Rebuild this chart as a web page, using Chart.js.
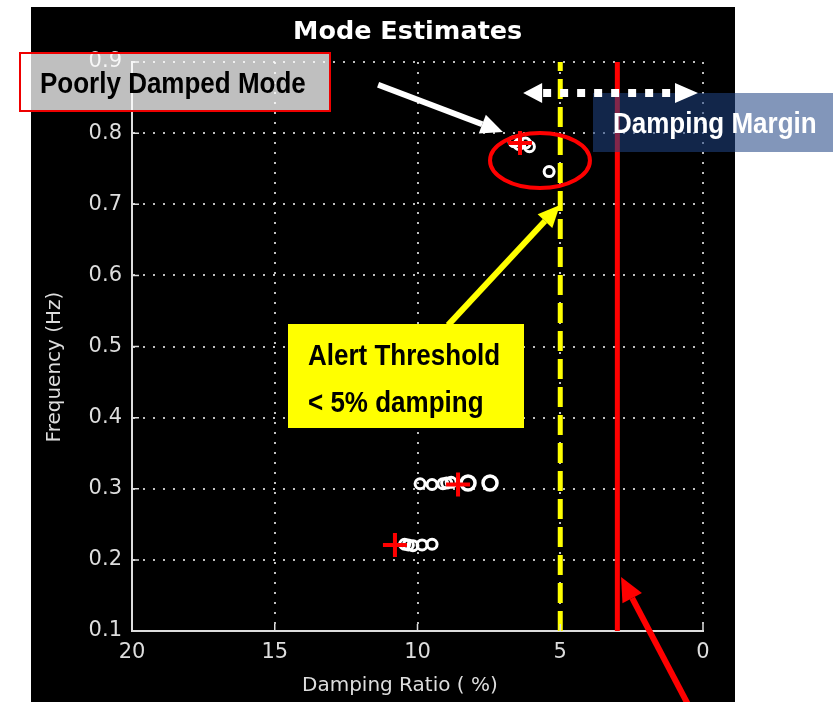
<!DOCTYPE html>
<html>
<head>
<meta charset="utf-8">
<style>
  html, body { margin: 0; padding: 0; background: #fff; }
  #wrap { position: relative; width: 833px; height: 702px; overflow: hidden; }
</style>
<script src="https://cdn.jsdelivr.net/npm/chart.js@4/dist/chart.umd.min.js"></script>
</head>
<body>
<div id="wrap"><canvas id="modeChart" width="833" height="702"></canvas></div>
<script>
// tick values
const dampTicks = [0, 5, 10, 15, 20];
const freqTicks = [0.1, 0.2, 0.3, 0.4, 0.5, 0.6, 0.7, 0.8, 0.9];

// mode estimates (damping %, frequency Hz)
const estDamping = [9.91, 9.49, 9.11, 8.98, 8.82, 10.45, 10.32, 10.16, 9.84, 9.49, 6.62, 6.45, 6.22, 6.08, 5.39];
const estFreq    = [0.307, 0.306, 0.307, 0.308, 0.309, 0.222, 0.221, 0.220, 0.221, 0.222, 0.788, 0.784, 0.786, 0.781, 0.746];
const bigDamping = [8.23, 7.46];
const bigFreq    = [0.308, 0.308];
// current (latest) estimates, red crosses
const curDamping = [10.79, 8.58, 6.41];
const curFreq    = [0.221, 0.306, 0.786];

const alertThreshold = 5;   // % damping
const marginLine = 3;       // % damping

const toPts = (xs, ys) => xs.map((x, i) => ({x: x, y: ys[i]}));

function arrow(ctx, x1, y1, x2, y2, w, headLen, headW, color) {
    const a = Math.atan2(y2 - y1, x2 - x1);
    const bx = x2 - headLen * Math.cos(a), by = y2 - headLen * Math.sin(a);
    ctx.strokeStyle = color;
    ctx.fillStyle = color;
    ctx.lineWidth = w;
    ctx.beginPath();
    ctx.moveTo(x1, y1);
    ctx.lineTo(bx, by);
    ctx.stroke();
    ctx.beginPath();
    ctx.moveTo(x2, y2);
    ctx.lineTo(bx + headW / 2 * Math.sin(a), by - headW / 2 * Math.cos(a));
    ctx.lineTo(bx - headW / 2 * Math.sin(a), by + headW / 2 * Math.cos(a));
    ctx.closePath();
    ctx.fill();
}

function tallText(ctx, txt, x, y) {
    ctx.save();
    ctx.translate(x, y);
    ctx.scale(1, 1.1);
    ctx.fillText(txt, 0, 0);
    ctx.restore();
}

const matlabLook = {
    id: 'matlabLook',
    beforeDraw(chart) {
        const ctx = chart.ctx;
        ctx.save();
        ctx.fillStyle = '#000';
        ctx.fillRect(31, 7, 704, 695);
        ctx.restore();
    },
    afterDraw(chart) {
        const ctx = chart.ctx;
        const X = chart.scales.x, Y = chart.scales.y;
        const px = v => X.getPixelForValue(v);
        const py = v => Y.getPixelForValue(v);
        ctx.save();

        // inward tick marks
        ctx.strokeStyle = '#ddd';
        ctx.lineWidth = 1.5;
        ctx.beginPath();
        freqTicks.forEach(v => { ctx.moveTo(X.left, py(v)); ctx.lineTo(X.left + 7, py(v)); });
        dampTicks.forEach(v => { ctx.moveTo(px(v), Y.bottom); ctx.lineTo(px(v), Y.bottom - 7); });
        ctx.stroke();

        // titles
        ctx.fillStyle = '#fff';
        ctx.font = 'bold 25.5px "DejaVu Sans"';
        ctx.textAlign = 'left';
        ctx.textBaseline = 'alphabetic';
        ctx.fillText('Mode Estimates', 293, 39);
        ctx.fillStyle = '#ddd';
        ctx.font = '20px "DejaVu Sans"';
        ctx.fillText('Damping Ratio ( %)', 302, 691);
        ctx.save();
        ctx.translate(55, 367);
        ctx.rotate(-Math.PI / 2);
        ctx.textAlign = 'center';
        ctx.textBaseline = 'middle';
        ctx.fillText('Frequency (Hz)', 0, 0);
        ctx.restore();

        // ellipse round the poorly damped mode
        const cx = 5.71, cy = 0.7615;
        ctx.strokeStyle = '#f00';
        ctx.lineWidth = 4;
        ctx.beginPath();
        ctx.ellipse(px(cx), py(cy), Math.abs(px(cx + 1.75) - px(cx)), Math.abs(py(cy + 0.0387) - py(cy)), 0, 0, Math.PI * 2);
        ctx.stroke();

        // arrows
        arrow(ctx, px(11.38), py(0.868), px(7.01), py(0.8016), 6, 22, 20, '#fff');
        arrow(ctx, px(8.93), py(0.530), px(5.01), py(0.699), 6, 22, 20, '#ff0');
        arrow(ctx, px(0.385), py(-0.014), px(2.87), py(0.176), 6, 24, 22, '#f00');

        // Damping Margin box (under the dotted arrow)
        ctx.fillStyle = 'rgba(32,68,132,0.56)';
        ctx.fillRect(593, 93, 260, 59);
        ctx.fillStyle = '#fff';
        ctx.font = 'bold 26px "Liberation Sans"';
        tallText(ctx, 'Damping Margin', 613, 133);

        // dotted double arrow
        const ay = py(0.8564), ax1 = px(6.30), ax2 = px(0.175);
        ctx.strokeStyle = '#fff';
        ctx.fillStyle = '#fff';
        ctx.lineWidth = 8;
        ctx.setLineDash([8, 9]);
        ctx.beginPath();
        ctx.moveTo(ax1 + 20, ay);
        ctx.lineTo(ax2 - 22, ay);
        ctx.stroke();
        ctx.setLineDash([]);
        ctx.beginPath();
        ctx.moveTo(ax1, ay); ctx.lineTo(ax1 + 19, ay - 10); ctx.lineTo(ax1 + 19, ay + 10); ctx.closePath();
        ctx.moveTo(ax2, ay); ctx.lineTo(ax2 - 23, ay - 10); ctx.lineTo(ax2 - 23, ay + 10); ctx.closePath();
        ctx.fill();

        // Poorly Damped Mode box
        ctx.fillStyle = 'rgba(255,255,255,0.75)';
        ctx.fillRect(20, 53, 310, 58);
        ctx.strokeStyle = '#e00';
        ctx.lineWidth = 2;
        ctx.strokeRect(20, 53, 310, 58);
        ctx.fillStyle = '#000';
        tallText(ctx, 'Poorly Damped Mode', 40, 93);

        // Alert threshold box
        ctx.fillStyle = '#ff0';
        ctx.fillRect(288, 324, 236, 104);
        ctx.fillStyle = '#000';
        tallText(ctx, 'Alert Threshold', 308, 365);
        tallText(ctx, '< 5% damping', 308, 412);

        ctx.restore();
    }
};

Chart.defaults.font.family = '"DejaVu Sans"';

const ctx = document.getElementById('modeChart').getContext('2d');
new Chart(ctx, {
    type: 'scatter',
    data: {
        datasets: [{
            label: 'Current estimate',
            data: toPts(curDamping, curFreq),
            pointStyle: 'cross',
            radius: 12,
            borderColor: '#f00',
            borderWidth: 4,
            order: 0
        }, {
            label: 'Estimates',
            data: toPts(estDamping, estFreq),
            pointStyle: 'circle',
            radius: 5,
            borderColor: '#fff',
            backgroundColor: 'rgba(0,0,0,0)',
            borderWidth: 3,
            order: 1
        }, {
            label: 'Estimates (large)',
            data: toPts(bigDamping, bigFreq),
            pointStyle: 'circle',
            radius: 7,
            borderColor: '#fff',
            backgroundColor: 'rgba(0,0,0,0)',
            borderWidth: 3.5,
            order: 1
        }, {
            type: 'line',
            label: 'Alert threshold',
            data: [{x: alertThreshold, y: freqTicks[0]}, {x: alertThreshold, y: freqTicks[freqTicks.length - 1]}],
            borderColor: '#ff0',
            borderWidth: 5,
            borderDash: [20, 8],
            pointRadius: 0,
            clip: false,
            order: 2
        }, {
            type: 'line',
            label: 'Margin',
            data: [{x: marginLine, y: freqTicks[0]}, {x: marginLine, y: freqTicks[freqTicks.length - 1]}],
            borderColor: '#f00',
            borderWidth: 5,
            pointRadius: 0,
            clip: false,
            order: 2
        }]
    },
    options: {
        responsive: false,
        animation: false,
        layout: { padding: { left: 31, top: 62, right: 130, bottom: 0 } },
        plugins: {
            legend: { display: false },
            tooltip: { enabled: false },
            title: { display: false }
        },
        scales: {
            x: {
                type: 'linear',
                reverse: true,
                min: 0,
                max: 20,
                afterBuildTicks: s => { s.ticks = dampTicks.map(v => ({value: v})); },
                afterFit: s => { s.height = 71; },
                grid: { color: 'rgba(255,255,255,0.75)', lineWidth: 2, drawTicks: false },
                border: { display: true, color: '#ddd', width: 2, dash: [2, 8] },
                ticks: {
                    color: '#ddd',
                    font: { size: 21 },
                    padding: 9,
                    maxRotation: 0,
                    autoSkip: false,
                    callback: v => String(v)
                }
            },
            y: {
                type: 'linear',
                min: 0.1,
                max: 0.9,
                afterBuildTicks: s => { s.ticks = freqTicks.map(v => ({value: v})); },
                afterFit: s => { s.width = 101; },
                grid: { color: 'rgba(255,255,255,0.75)', lineWidth: 2, drawTicks: false },
                border: { display: true, color: '#ddd', width: 2, dash: [2, 8] },
                ticks: {
                    color: '#ddd',
                    font: { size: 21 },
                    padding: 10,
                    autoSkip: false,
                    callback: v => v.toFixed(1)
                }
            }
        }
    },
    plugins: [matlabLook]
});
</script>
</body>
</html>
